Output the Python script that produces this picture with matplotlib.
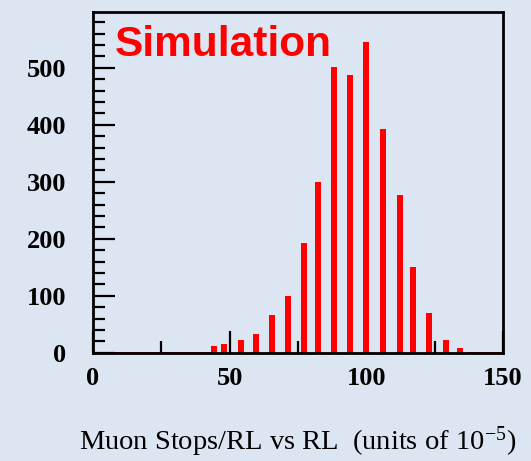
import numpy as np
import matplotlib.pyplot as plt
from matplotlib.ticker import MultipleLocator, FixedLocator

# histogram bins (RL, units of 1e-5)
bin_pos = [44.4, 48.1, 54.3, 59.5, 65.5, 71.3, 77.2, 82.4, 88.0, 94.1,
           100.0, 106.0, 112.2, 117.1, 123.1, 129.2, 134.1]
counts = [11, 15, 23, 33, 66, 100, 192, 300, 502, 487,
          545, 392, 277, 151, 69, 23, 8]
# near-empty bins along the baseline
tail_pos = [10, 14, 18, 22, 26, 30, 34, 38, 41, 139, 143, 147]
tail_counts = [2, 2, 2, 2, 2, 2, 2, 2, 2, 2, 2, 2]

plt.rcParams['mathtext.fontset'] = 'stix'

bg = '#dce6f2'
fig = plt.figure(figsize=(5.31, 4.61), dpi=100, facecolor=bg)
ax = fig.add_axes([0.1751, 0.2349, 0.7722, 0.739])
ax.set_facecolor(bg)

ax.bar(tail_pos, tail_counts, width=4.2, color='#ff0000', linewidth=0, zorder=1)
ax.bar(bin_pos, counts, width=2.2, color='#ff0000', linewidth=0, zorder=2)

ax.set_xlim(0, 150)
ax.set_ylim(0, 598)

for s in ax.spines.values():
    s.set_linewidth(2)
    s.set_color('black')
    s.set_zorder(3)

ax.xaxis.set_major_locator(FixedLocator([0, 50, 100, 150]))
ax.xaxis.set_minor_locator(FixedLocator([25, 75, 125]))
ax.yaxis.set_major_locator(MultipleLocator(100))
ax.yaxis.set_minor_locator(MultipleLocator(20))

ax.tick_params(axis='both', which='major', direction='in', length=16, width=1.6,
               color='black', labelsize=19)
ax.tick_params(axis='both', which='minor', direction='in', length=8.5, width=1.6,
               color='black')
ax.tick_params(axis='y', which='major', pad=19)
ax.tick_params(axis='x', which='major', pad=10)
for lab in ax.get_xticklabels() + ax.get_yticklabels():
    lab.set_fontfamily('Liberation Serif')
    lab.set_fontweight('bold')

ax.set_xlabel(r'Muon Stops/RL vs RL  (units of 10$^{\mathregular{-5}}$)',
              family='Liberation Serif', fontsize=20.5, labelpad=25)

ax.text(0.053, 0.962, 'Simulation', transform=ax.transAxes, color='#ff0000',
        family='Liberation Sans', weight='bold', fontsize=30.5, va='top', ha='left')

fig.savefig('out.png', dpi=100, facecolor=bg)
